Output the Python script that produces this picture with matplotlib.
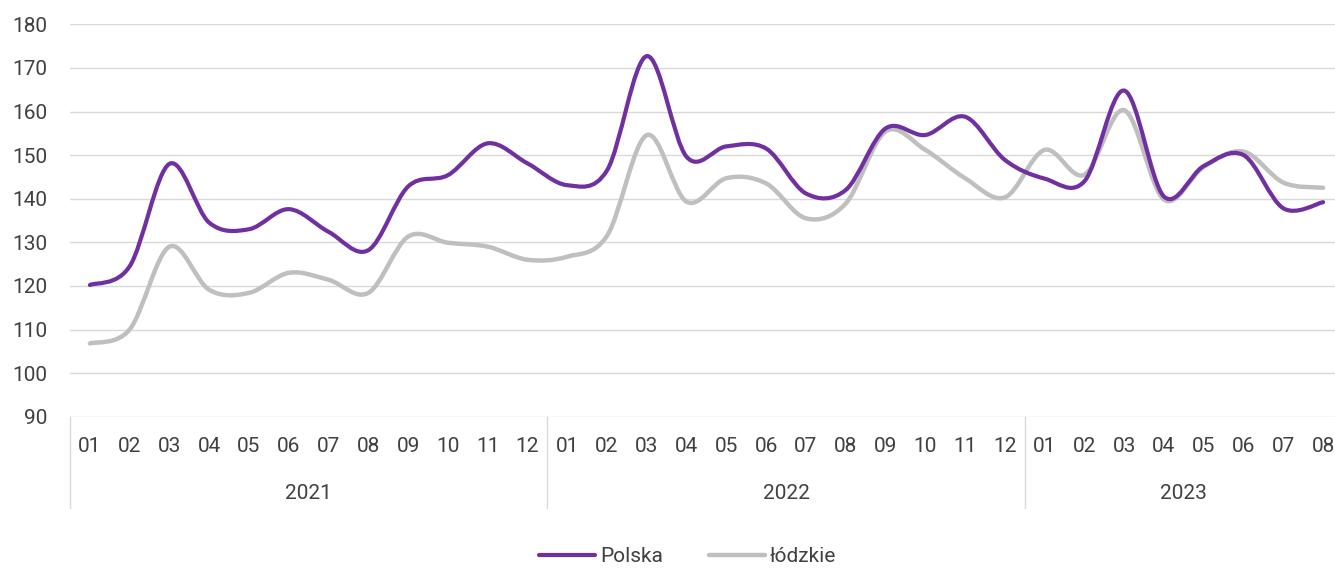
import matplotlib
matplotlib.use("Agg")
import matplotlib.pyplot as plt
import numpy as np
from matplotlib.path import Path
from matplotlib.patches import PathPatch
from matplotlib.lines import Line2D
import matplotlib.transforms as mtransforms

plt.rcParams["font.family"] = ["Roboto", "DejaVu Sans"]

years = ["2021", "2022", "2023"]
months_per_year = [12, 12, 8]
polska = [120.2, 124.5, 148.0, 134.5, 133.0, 137.6, 132.4, 128.2, 142.8, 145.4, 152.7, 148.1,
          143.1, 146.5, 172.7, 149.6, 152.0, 151.5, 141.2, 142.0, 156.1, 154.6, 158.8, 148.9,
          144.6, 144.0, 164.8, 140.5, 147.5, 150.0, 137.8, 139.2]
lodzkie = [106.8, 110.0, 129.0, 119.1, 118.4, 123.0, 121.4, 118.4, 131.3, 129.9, 129.0, 126.0,
           126.7, 131.5, 154.6, 139.3, 144.7, 143.5, 135.5, 138.9, 155.4, 151.2, 144.7, 140.3,
           151.2, 145.5, 160.3, 139.8, 147.3, 150.8, 143.7, 142.5]

month_labels = ["%02d" % (m + 1) for n in months_per_year for m in range(n)]

PURPLE = "#7030A0"
GREY = "#BFBFBF"
TEXT = "#404040"
GRID = "#D9D9D9"


def smooth_path(ys):
    # Excel-like smoothed line: Catmull-Rom turned into cubic Bezier segments
    pts = np.column_stack([np.arange(len(ys)), ys]).astype(float)
    n = len(pts)
    verts = [pts[0]]
    codes = [Path.MOVETO]
    for i in range(n - 1):
        p0 = pts[max(i - 1, 0)]
        p1 = pts[i]
        p2 = pts[i + 1]
        p3 = pts[min(i + 2, n - 1)]
        verts += [p1 + (p2 - p0) / 6, p2 - (p3 - p1) / 6, p2]
        codes += [Path.CURVE4] * 3
    return Path(verts, codes)


W, H = 1335, 568
fig = plt.figure(figsize=(W / 100, H / 100), dpi=100)
ax = fig.add_axes([70 / W, 1 - 416.7 / H, (1343 - 70) / W, 392.4 / H])

ax.add_patch(PathPatch(smooth_path(lodzkie), fill=False, edgecolor=GREY, lw=3.2,
                       capstyle="round", joinstyle="round", zorder=3))
ax.add_patch(PathPatch(smooth_path(polska), fill=False, edgecolor=PURPLE, lw=3.0,
                       capstyle="round", joinstyle="round", zorder=4))

ax.set_xlim(-0.5, len(polska) - 0.5)
ax.set_ylim(90, 180)
ax.set_yticks(np.arange(90, 181, 10))
ax.grid(axis="y", color=GRID, lw=1.0)
ax.set_axisbelow(True)
for s in ax.spines.values():
    s.set_visible(False)
ax.set_xticks([])
ax.tick_params(axis="y", length=0, pad=16, labelsize=15, labelcolor=TEXT)

trans = mtransforms.blended_transform_factory(ax.transData, ax.transAxes)
for i, lab in enumerate(month_labels):
    ax.text(i, -0.077, lab, transform=trans, ha="center", va="center",
            fontsize=15, color=TEXT)

start = 0
for yr, n in zip(years, months_per_year):
    ax.text(start + (n - 1) / 2, -0.195, yr, transform=trans, ha="center", va="center",
            fontsize=15, color=TEXT)
    ax.add_line(Line2D([start - 0.5, start - 0.5], [0, -0.233], transform=trans,
                       color=GRID, lw=1.0, clip_on=False))
    start += n

handles = [Line2D([], [], color=PURPLE, lw=3.0, solid_capstyle="round"),
           Line2D([], [], color=GREY, lw=3.2, solid_capstyle="round")]
fig.legend(handles, ["Polska", "łódzkie"], loc="center", bbox_to_anchor=(0.515, 1 - 557 / H),
           ncol=2, frameon=False, fontsize=15, handlelength=2.7, handletextpad=0.25,
           columnspacing=2.2, labelcolor=TEXT)

fig.savefig("out.png", dpi=100)
